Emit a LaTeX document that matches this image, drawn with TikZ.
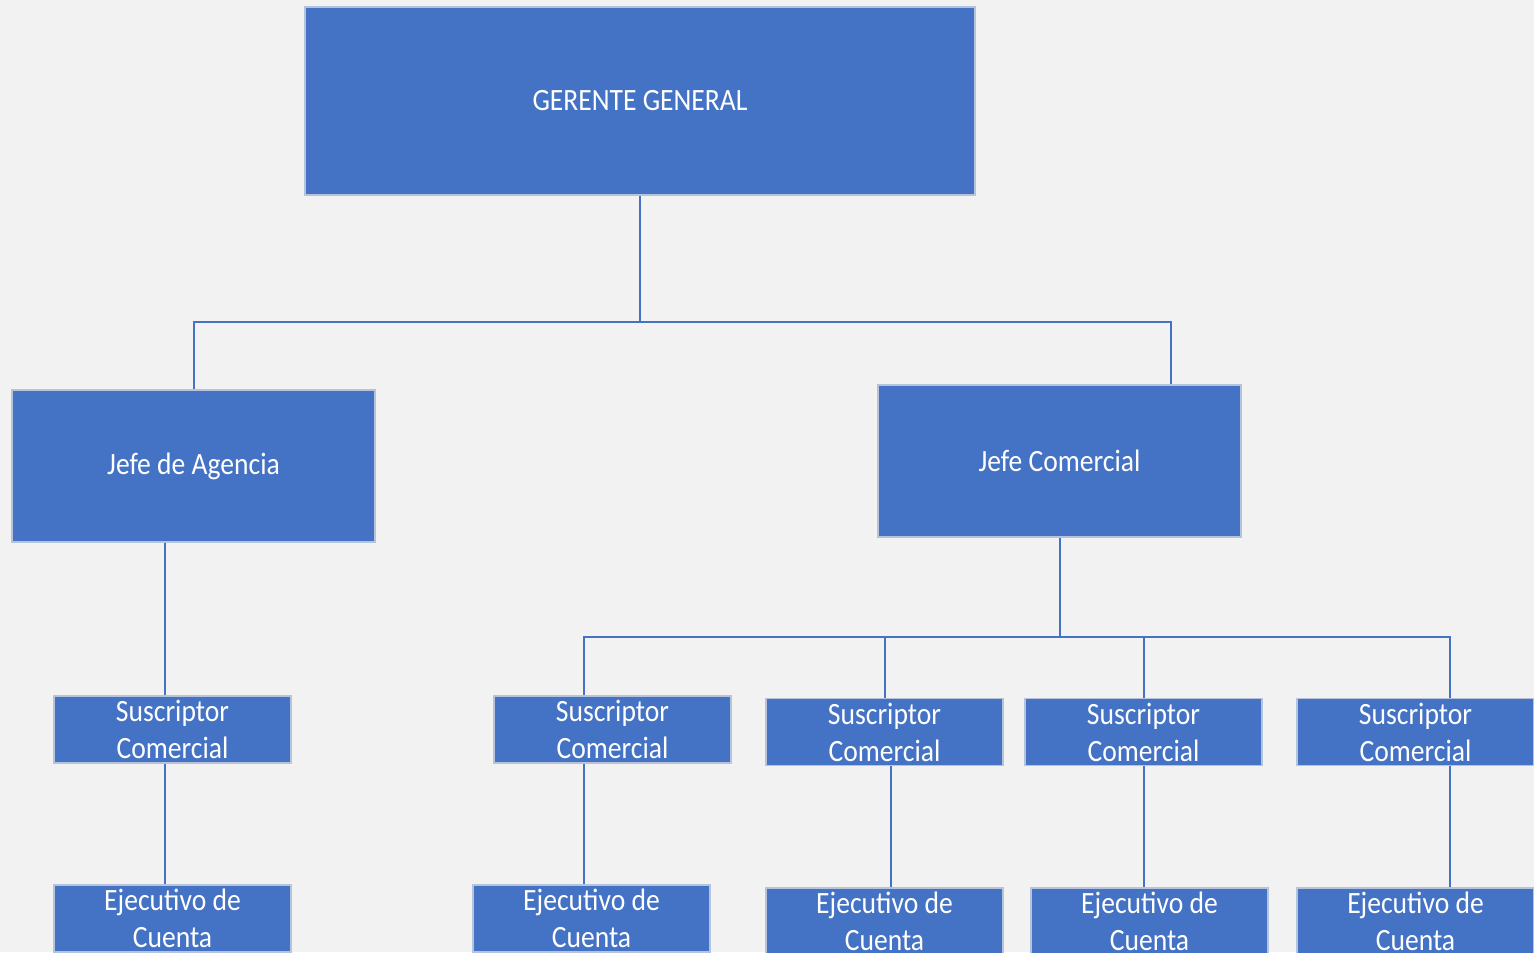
\documentclass[tikz,border=0pt]{standalone}
\usepackage{fontspec}
\setmainfont{Carlito}[FakeStretch=0.89]
\definecolor{bg}{HTML}{F2F2F2}
\definecolor{boxblue}{HTML}{4472C4}
\definecolor{boxedge}{HTML}{B7C3DA}
\begin{document}
\begin{tikzpicture}[x=0.5pt,y=-0.5pt,
  box/.style={rectangle,fill=boxblue,draw=boxedge,line width=0.6pt,inner sep=0pt,
    text=white,align=center,font=\fontsize{15.5pt}{18.5pt}\selectfont},
  big/.style={box,minimum width=335pt,minimum height=94pt},
  mid/.style={box,minimum width=181.5pt,minimum height=76pt},
  small/.style={box,minimum width=118.5pt,minimum height=33.5pt},
  link/.style={draw=boxblue,line width=1pt}]
\useasboundingbox (0,0) rectangle (1534,952);
\clip (0,0) rectangle (1534,952);
\fill[bg] (0,0) rectangle (1534,952);

\node[big] (gg) at (640,101) {GERENTE GENERAL};
\node[mid] (ja) at (193.5,466) {\raisebox{-1.5pt}{Jefe de Agencia}};
\node[mid] (jc) at (1059.5,461) {Jefe Comercial};

\node[small] (s1) at (172.5,729.5) {Suscriptor\\Comercial};
\node[small] (s2) at (612.5,729.5) {Suscriptor\\Comercial};
\node[small] (s3) at (884.5,732) {Suscriptor\\Comercial};
\node[small] (s4) at (1143.5,732) {Suscriptor\\Comercial};
\node[small] (s5) at (1415.5,732) {Suscriptor\\Comercial};

\node[small] (e1) at (172.5,918.5) {Ejecutivo de\\Cuenta};
\node[small] (e2) at (591.5,918.5) {Ejecutivo de\\Cuenta};
\node[small] (e3) at (884.5,921.5) {Ejecutivo de\\Cuenta};
\node[small] (e4) at (1149.5,921.5) {Ejecutivo de\\Cuenta};
\node[small] (e5) at (1415.5,921.5) {Ejecutivo de\\Cuenta};

\coordinate (top) at (640,322);
\coordinate (bus) at (1059.5,637);

% top level
\draw[link] (gg.south) -- (top);
\draw[link] (top) -| (ja.north);
\draw[link] (top) -| ([xshift=55.75pt]jc.north);

% left branch
\draw[link] ([xshift=-14.25pt]ja.south) -- ([xshift=-3.75pt]s1.north);
\draw[link] ([xshift=-3.75pt]s1.south) -- ([xshift=-3.75pt]e1.north);

% right branch
\draw[link] (jc.south) -- (bus);
\draw[link] (bus) -| ([xshift=-14.25pt]s2.north);
\draw[link] (bus) -| (s3.north);
\draw[link] (bus) -| (s4.north);
\draw[link] (bus) -| ([xshift=17.25pt]s5.north);

\draw[link] ([xshift=-14.25pt]s2.south) -- ([xshift=-3.75pt]e2.north);
\draw[link] ([xshift=3.25pt]s3.south) -- ([xshift=3.25pt]e3.north);
\draw[link] (s4.south) -- (s4.south |- e4.north);
\draw[link] ([xshift=17.25pt]s5.south) -- ([xshift=17.25pt]e5.north);
\end{tikzpicture}
\end{document}
